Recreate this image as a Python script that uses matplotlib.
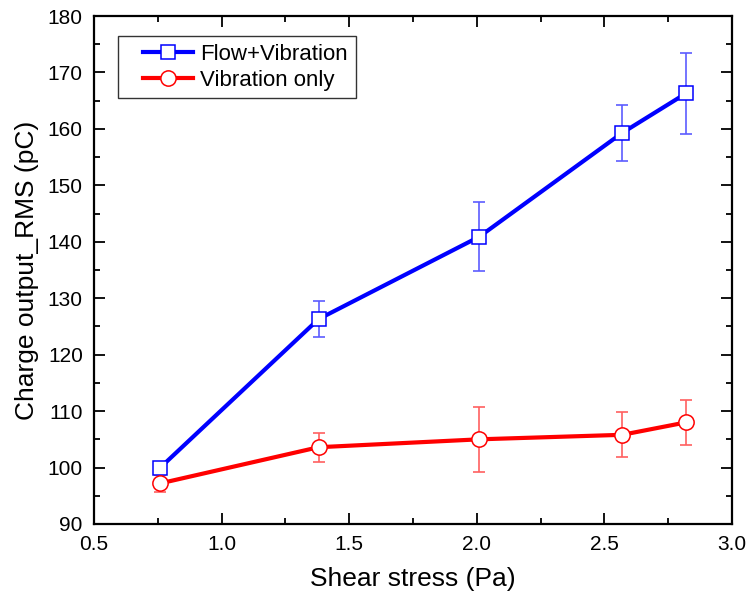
import matplotlib
matplotlib.use('Agg')
import matplotlib.pyplot as plt
from matplotlib.ticker import MultipleLocator
from matplotlib.lines import Line2D
from matplotlib.legend_handler import HandlerLine2D

plt.rcParams['font.family'] = ['Liberation Sans', 'DejaVu Sans']

# ── Data ─────────────────────────────────────────────────────────────────────
shear = [0.76, 1.38, 2.01, 2.57, 2.82]

flow_vib     = [100.0, 126.3, 140.9, 159.3, 166.3]
flow_vib_err = [0.6, 3.2, 6.1, 4.9, 7.2]

vib_only     = [97.2, 103.6, 105.0, 105.8, 108.0]
vib_only_err = [1.5, 2.6, 5.8, 4.0, 4.0]

# ── Plot ─────────────────────────────────────────────────────────────────────
fig = plt.figure(figsize=(7.5, 6.02), dpi=100)
ax = fig.add_axes([0.1253, 0.1296, 0.976 - 0.1253, 0.9734 - 0.1296])

series = [
    (flow_vib, flow_vib_err, '#0000ff', '#5c5cff', 's', 10, 'Flow+Vibration'),
    (vib_only, vib_only_err, '#ff0000', '#ff6060', 'o', 11, 'Vibration only'),
]
for y, err, col, ecol, mk, ms, lab in series:
    ax.errorbar(shear, y, yerr=err, fmt='none', ecolor=ecol,
                elinewidth=1.2, capsize=4.5, capthick=1.2, zorder=2)
    ax.plot(shear, y, color=col, lw=3, marker=mk, ms=ms, mfc='white',
            mec=col, mew=1.1, label=lab, zorder=3)

ax.set_xlim(0.5, 3.0)
ax.set_ylim(90, 180)
ax.xaxis.set_major_locator(MultipleLocator(0.5))
ax.xaxis.set_minor_locator(MultipleLocator(0.25))
ax.yaxis.set_major_locator(MultipleLocator(10))
ax.yaxis.set_minor_locator(MultipleLocator(5))

ax.tick_params(which='both', direction='in', top=True, right=True,
               width=1.3, labelsize=15, pad=8)
ax.tick_params(which='major', length=8)
ax.tick_params(which='minor', length=4.5)
for sp in ax.spines.values():
    sp.set_linewidth(1.6)

ax.set_xlabel('Shear stress (Pa)', fontsize=19, labelpad=9)
ax.set_ylabel('Charge output_RMS (pC)', fontsize=19, labelpad=6)

leg = ax.legend(loc='upper left', bbox_to_anchor=(0.038, 0.96), fontsize=16,
                frameon=True, fancybox=False, edgecolor='black',
                handlelength=3.0, borderpad=0.35, labelspacing=0.2,
                handletextpad=0.35, borderaxespad=0,
                handler_map={Line2D: HandlerLine2D(xpad=0.75)})
leg.get_frame().set_linewidth(1.0)

fig.savefig('out.png', dpi=100)
